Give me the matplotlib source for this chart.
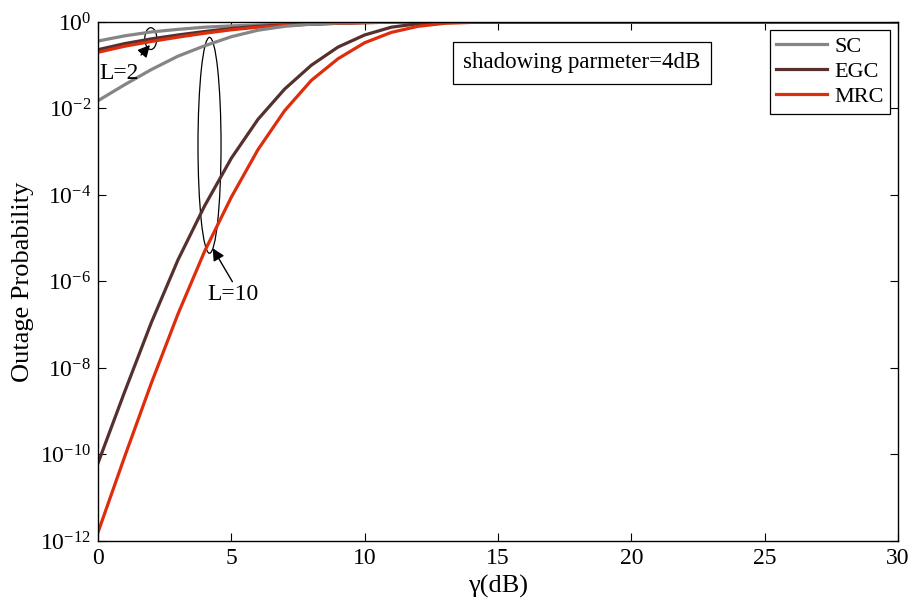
import numpy as np
import matplotlib.pyplot as plt
from matplotlib.patches import Ellipse

plt.rcParams['font.family'] = ['Liberation Serif', 'DejaVu Serif']
plt.rcParams['mathtext.fontset'] = 'stix'

# SNR axis (dB)
gamma = np.arange(0, 31)

# log10 of outage probability, L=2
sc_l2 = [-0.44, -0.32, -0.23, -0.17, -0.12, -0.09, -0.07, -0.05, -0.03, -0.02,
         -0.01, -0.005, 0, 0, 0, 0, 0, 0, 0, 0, 0, 0, 0, 0, 0, 0, 0, 0, 0, 0, 0]
egc_l2 = [-0.64, -0.50, -0.39, -0.30, -0.22, -0.15, -0.10, -0.07, -0.05, -0.03,
          -0.015, -0.005, 0, 0, 0, 0, 0, 0, 0, 0, 0, 0, 0, 0, 0, 0, 0, 0, 0, 0, 0]
mrc_l2 = [-0.70, -0.56, -0.45, -0.35, -0.26, -0.18, -0.12, -0.08, -0.05, -0.03,
          -0.015, -0.005, 0, 0, 0, 0, 0, 0, 0, 0, 0, 0, 0, 0, 0, 0, 0, 0, 0, 0, 0]

# L=10
sc_l10 = [-1.82, -1.45, -1.10, -0.79, -0.55, -0.34, -0.19, -0.10, -0.05, -0.02,
          -0.01, 0, 0, 0, 0, 0, 0, 0, 0, 0, 0, 0, 0, 0, 0, 0, 0, 0, 0, 0, 0]
egc_l10 = [-10.2, -8.55, -6.95, -5.5, -4.25, -3.15, -2.25, -1.55, -1.0, -0.58,
           -0.3, -0.12, -0.04, -0.01, 0, 0, 0, 0, 0, 0, 0, 0, 0, 0, 0, 0, 0, 0, 0, 0, 0]
mrc_l10 = [-11.8, -10.05, -8.35, -6.75, -5.3, -4.05, -2.95, -2.05, -1.35, -0.85,
           -0.48, -0.24, -0.1, -0.03, -0.01, 0, 0, 0, 0, 0, 0, 0, 0, 0, 0, 0, 0, 0, 0, 0, 0]

c_sc = '#858585'
c_egc = '#55302f'
c_mrc = '#df2c0c'

fig = plt.figure(figsize=(9.15, 6.06), dpi=100)
ax = fig.add_axes([0.1071, 0.1073, 0.8743, 0.8564])

lw = 2.3
ax.semilogy(gamma, 10.0 ** np.array(sc_l2), color=c_sc, lw=lw, label='SC')
ax.semilogy(gamma, 10.0 ** np.array(egc_l2), color=c_egc, lw=lw, label='EGC')
ax.semilogy(gamma, 10.0 ** np.array(mrc_l2), color=c_mrc, lw=lw, label='MRC')
ax.semilogy(gamma, 10.0 ** np.array(sc_l10), color=c_sc, lw=lw)
ax.semilogy(gamma, 10.0 ** np.array(egc_l10), color=c_egc, lw=lw)
ax.semilogy(gamma, 10.0 ** np.array(mrc_l10), color=c_mrc, lw=lw)

ax.set_xlim(0, 30)
ax.set_ylim(1e-12, 1)
ax.set_xticks([0, 5, 10, 15, 20, 25, 30])
ax.set_yticks([10.0 ** k for k in range(-12, 1, 2)])
ax.minorticks_off()
ax.tick_params(direction='in', length=6, width=0.8, top=True, right=True,
               labelsize=17, pad=5)
for s in ax.spines.values():
    s.set_linewidth(1.0)

ax.set_xlabel('γ(dB)', fontsize=19, labelpad=4)
ax.set_ylabel('Outage Probability', fontsize=19, labelpad=4)

# annotations: ellipses grouping curves
ax.add_patch(Ellipse((0.066, 0.968), 0.015, 0.042, transform=ax.transAxes,
                     fill=False, ec='k', lw=0.9))
ax.add_patch(Ellipse((0.1394, 0.7624), 0.0288, 0.416, transform=ax.transAxes,
                     fill=False, ec='k', lw=0.9))

arrow = dict(arrowstyle='-|>', color='k', lw=1.0, mutation_scale=18,
             shrinkA=0, shrinkB=0)
ax.annotate('', xy=(0.065, 0.9557), xytext=(0.0538, 0.9364),
            xycoords='axes fraction', textcoords='axes fraction', arrowprops=arrow)
ax.annotate('', xy=(0.1434, 0.564), xytext=(0.168, 0.4996),
            xycoords='axes fraction', textcoords='axes fraction', arrowprops=arrow)
ax.text(0.026, 0.90, 'L=2', transform=ax.transAxes, fontsize=17,
        ha='center', va='center')
ax.text(0.169, 0.474, 'L=10', transform=ax.transAxes, fontsize=17,
        ha='center', va='center')

ax.text(0.605, 0.921, 'shadowing parmeter=4dB', transform=ax.transAxes,
        fontsize=16.5, ha='center', va='center',
        bbox=dict(boxstyle='square,pad=0.45', fc='white', ec='k', lw=0.9))

leg = ax.legend(loc='upper right', fontsize=16, handlelength=2.3,
                fancybox=False, edgecolor='k', framealpha=1,
                borderaxespad=0.35, handletextpad=0.3, labelspacing=0.2,
                borderpad=0.3)
leg.get_frame().set_linewidth(0.9)

fig.savefig('out.png', dpi=100)
